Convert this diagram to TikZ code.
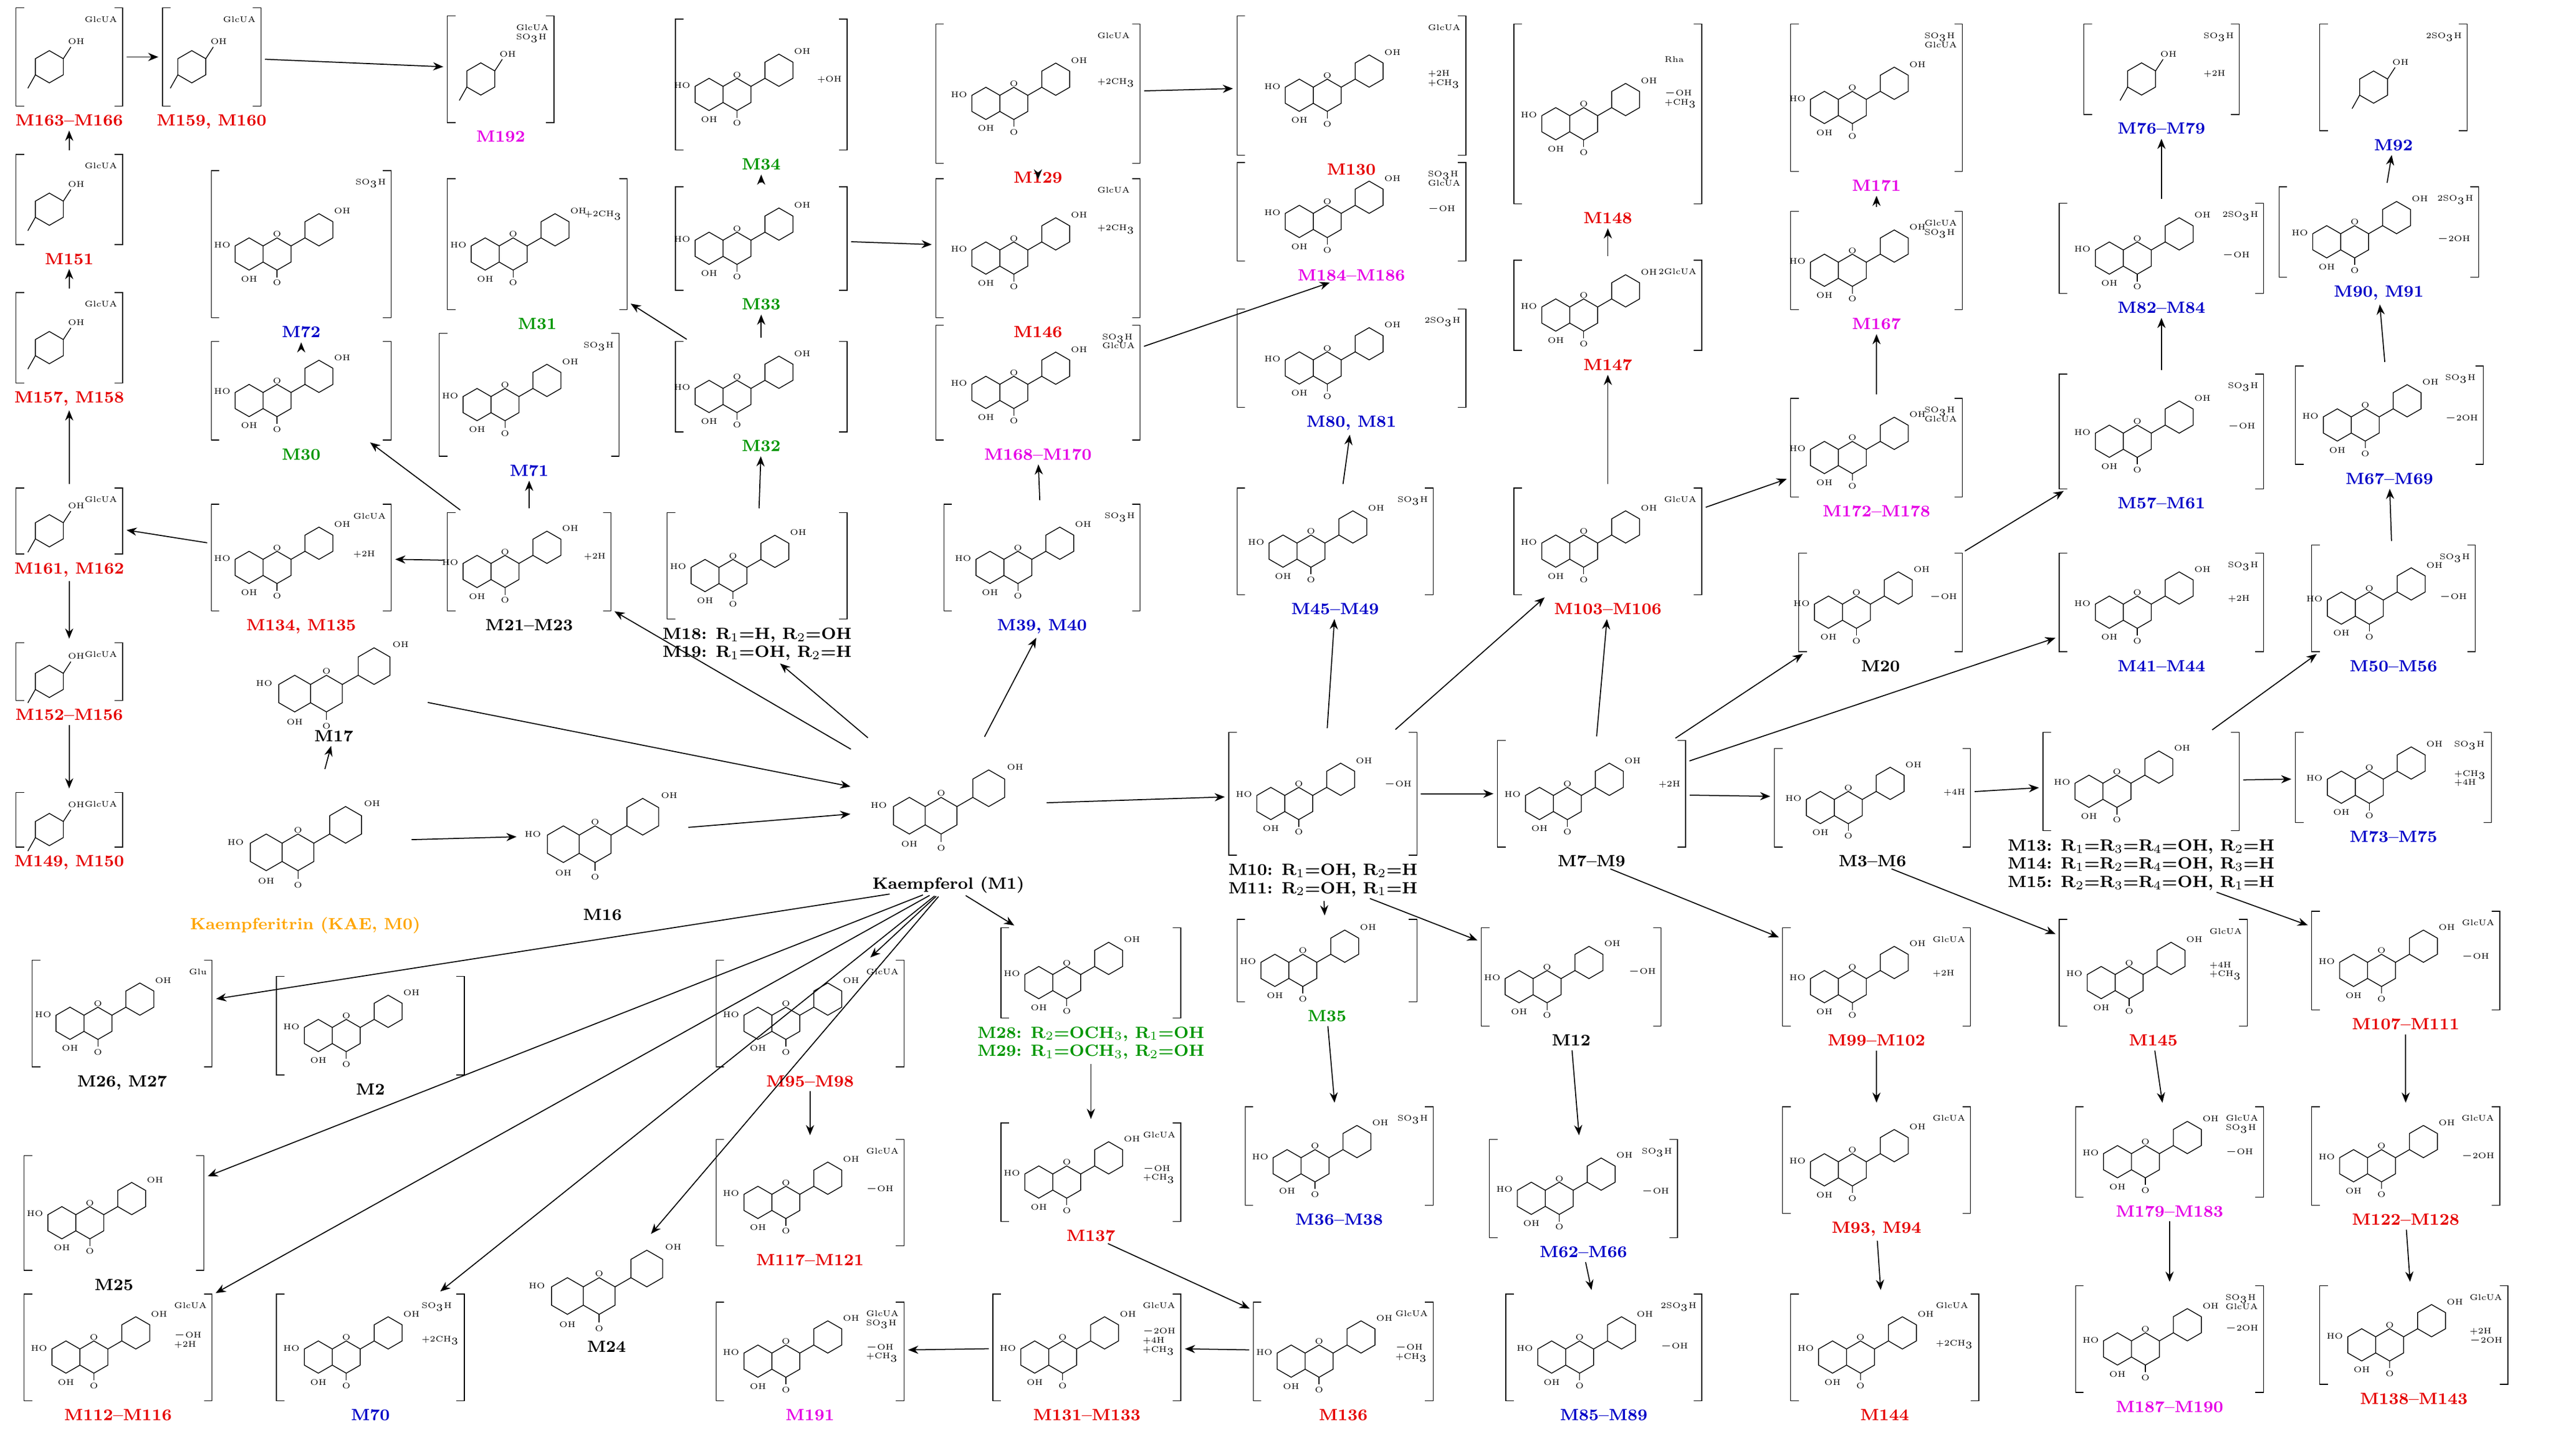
\documentclass[tikz,border=0pt]{standalone}
\usetikzlibrary{fit,calc,arrows.meta}
\definecolor{cred}{RGB}{230,0,0}
\definecolor{cmag}{RGB}{230,0,230}
\definecolor{cblue}{RGB}{0,0,200}
\definecolor{cgreen}{RGB}{0,150,0}
\definecolor{corange}{RGB}{255,165,0}
\tikzset{
 bond/.style={line width=0.4pt},
 brk/.style={line width=0.4pt},
 atom/.style={font=\fontsize{4}{4.5}\selectfont,inner sep=0pt},
 annot/.style={font=\fontsize{4}{4.5}\selectfont,inner sep=0pt,align=left},
 lab/.style={font=\fontsize{8}{9}\selectfont\bfseries,inner sep=0pt,align=center},
 arr/.style={-{Stealth[length=5pt,width=4pt]},line width=0.5pt,shorten >=2pt,shorten <=2pt},
 pics/flav/.style={code={
  \draw[bond] (0,-9)--(7.8,-4.5)--(7.8,4.5)--(0,9)--(-7.8,4.5)--(-7.8,-4.5)--cycle;
  \draw[bond] (7.8,-4.5)--(15.6,-9)--(23.4,-4.5)--(23.4,4.5)--(15.6,9)--(7.8,4.5);
  \draw[bond] (23.4,-4.5)--(31.2,-9);
  \draw[bond] (39,-22.5)--(46.8,-18)--(46.8,-9)--(39,-4.5)--(31.2,-9)--(31.2,-18)--cycle;
  \draw[bond] (15.6,9)--(15.6,13);
  \node[atom] at (-15,-5) {HO};
  \node[atom] at (0,14) {OH};
  \node[atom] at (15.6,16) {O};
  \node[atom] at (15.6,-11) {O};
  \node[atom] at (52,-24) {OH};
 }},
 pics/phen/.style={code={
  \draw[bond] (18,-9)--(25.8,-4.5)--(25.8,4.5)--(18,9)--(10.2,4.5)--(10.2,-4.5)--cycle;
  \draw[bond] (25.8,-4.5)--(30,-11);
  \draw[bond] (10.2,4.5)--(6,12);
  \node[atom] at (33,-14) {OH};
 }}
}
\newcommand\met[9]{%
 \coordinate (#1-a) at (#2,#3); \coordinate (#1-b) at (#4,#5);
 \node[fit=(#1-a)(#1-b),inner sep=0pt] (#1) {};
 \draw[brk] ($(#1.north west)+(5,0)$) -- (#1.north west) -- (#1.south west) -- ++(5,0);
 \draw[brk] ($(#1.north east)+(-5,0)$) -- (#1.north east) -- (#1.south east) -- ++(-5,0);
 \pic[scale=1.1] at ($(#1.center)+(-32,6)$) {#8};
 \node[annot,anchor=north east] at ($(#1.north east)+(-3,5)$) {#9};
 \node[lab,text=#7,anchor=north] (#1l) at ($(#1.south)+(0,5)$) {#6};
}
\newcommand\plain[7]{%
 \coordinate (#1-a) at (#2,#3); \coordinate (#1-b) at (#4,#5);
 \node[fit=(#1-a)(#1-b),inner sep=0pt] (#1) {};
 \pic[scale=1.25] at ($(#1.center)+(-24,6)$) {flav};
 \node[lab,text=#7,anchor=north] (#1l) at ($(#1.south)+(0,3)$) {#6};
}
\begin{document}
\begin{tikzpicture}[x=0.02816cm,y=-0.02816cm]
\useasboundingbox[fill=white] (0,0) rectangle (1568,894);
% row 1
\met{m163}{10}{5}{75}{65}{M163--M166}{cred}{phen}{GlcUA}
\met{m159}{100}{5}{160}{65}{M159, M160}{cred}{phen}{GlcUA}
\met{m192}{275}{10}{340}{75}{M192}{cmag}{phen}{GlcUA\\SO$_3$H}
\met{m34}{415}{12}{520}{92}{M34}{cgreen}{flav}{\\[22pt]+OH}
\met{m129}{575}{15}{700}{100}{M129}{cred}{flav}{GlcUA\\[18pt]+2CH$_3$}
\met{m130}{760}{10}{900}{95}{M130}{cred}{flav}{GlcUA\\[18pt]+2H\\+CH$_3$}
\met{m148}{930}{15}{1045}{125}{M148}{cred}{flav}{\\[10pt]Rha\\[12pt]$-$OH\\+CH$_3$}
\met{m171}{1100}{15}{1205}{105}{M171}{cmag}{flav}{SO$_3$H\\GlcUA}
\met{m76}{1280}{15}{1375}{70}{M76--M79}{cblue}{phen}{SO$_3$H\\[14pt]+2H}
\met{m92}{1425}{15}{1515}{80}{M92}{cblue}{phen}{2SO$_3$H}
% row 2
\met{m151}{10}{95}{75}{150}{M151}{cred}{phen}{GlcUA}
\met{m72}{130}{105}{240}{195}{M72}{cblue}{flav}{SO$_3$H}
\met{m31}{275}{110}{385}{190}{M31}{cgreen}{flav}{\\[10pt]+2CH$_3$}
\met{m33}{415}{115}{520}{178}{M33}{cgreen}{flav}{}
\met{m146}{575}{110}{700}{195}{M146}{cred}{flav}{GlcUA\\[14pt]+2CH$_3$}
\met{m184}{760}{100}{900}{160}{M184--M186}{cmag}{flav}{SO$_3$H\\GlcUA\\[8pt]$-$OH}
\met{m147}{930}{160}{1045}{215}{M147}{cred}{flav}{2GlcUA}
\met{m167}{1100}{130}{1205}{190}{M167}{cmag}{flav}{GlcUA\\SO$_3$H}
\met{m82}{1265}{125}{1390}{180}{M82--M84}{cblue}{flav}{2SO$_3$H\\[14pt]$-$OH}
\met{m90}{1400}{115}{1522}{170}{M90, M91}{cblue}{flav}{2SO$_3$H\\[14pt]$-$2OH}
% row 3
\met{m157}{10}{180}{75}{235}{M157, M158}{cred}{phen}{GlcUA}
\met{m30}{130}{210}{240}{270}{M30}{cgreen}{flav}{}
\met{m71}{270}{205}{380}{280}{M71}{cblue}{flav}{SO$_3$H}
\met{m32}{415}{210}{520}{265}{M32}{cgreen}{flav}{}
\met{m168}{575}{200}{700}{270}{M168--M170}{cmag}{flav}{SO$_3$H\\GlcUA}
\met{m80}{760}{190}{900}{250}{M80, M81}{cblue}{flav}{2SO$_3$H}
\met{m172}{1100}{245}{1205}{305}{M172--M178}{cmag}{flav}{SO$_3$H\\GlcUA}
\met{m57}{1265}{230}{1390}{300}{M57--M61}{cblue}{flav}{SO$_3$H\\[14pt]$-$OH}
\met{m67}{1410}{225}{1525}{285}{M67--M69}{cblue}{flav}{SO$_3$H\\[14pt]$-$2OH}
% row 4
\met{m161}{10}{300}{75}{340}{M161, M162}{cred}{phen}{GlcUA}
\met{m134}{130}{310}{240}{375}{M134, M135}{cred}{flav}{GlcUA\\[14pt]+2H}
\met{m21}{275}{315}{375}{375}{M21--M23}{black}{flav}{\\[14pt]+2H}
\met{m18}{410}{315}{520}{380}{M18: R$_1$=H, R$_2$=OH\\M19: R$_1$=OH, R$_2$=H}{black}{flav}{}
\met{m39}{580}{310}{700}{375}{M39, M40}{cblue}{flav}{SO$_3$H}
\met{m45}{760}{300}{880}{365}{M45--M49}{cblue}{flav}{SO$_3$H}
\met{m103}{930}{300}{1045}{365}{M103--M106}{cred}{flav}{GlcUA}
\met{m20}{1105}{340}{1205}{400}{M20}{black}{flav}{\\[14pt]$-$OH}
\met{m41}{1265}{340}{1390}{400}{M41--M44}{cblue}{flav}{SO$_3$H\\[12pt]+2H}
\met{m50}{1420}{335}{1520}{400}{M50--M56}{cblue}{flav}{SO$_3$H\\[14pt]$-$OH}
% row 5
\met{m152}{10}{395}{75}{430}{M152--M156}{cred}{phen}{GlcUA}
\met{m149}{10}{487}{75}{520}{M149, M150}{cred}{phen}{GlcUA}
\plain{m17}{150}{395}{260}{445}{M17}{black}
\plain{m0}{125}{475}{250}{560}{Kaempferitrin (KAE, M0)}{corange}
\plain{m16}{320}{470}{420}{555}{M16}{black}
\plain{m1}{525}{455}{640}{535}{Kaempferol (M1)}{black}
\met{m10}{755}{450}{870}{525}{M10: R$_1$=OH, R$_2$=H\\M11: R$_2$=OH, R$_1$=H}{black}{flav}{\\[18pt]$-$OH}
\met{m7}{920}{455}{1035}{520}{M7--M9}{black}{flav}{\\[14pt]+2H}
\met{m3}{1090}{460}{1210}{520}{M3--M6}{black}{flav}{\\[14pt]+4H}
\met{m13}{1255}{450}{1375}{510}{M13: R$_1$=R$_3$=R$_4$=OH, R$_2$=H\\M14: R$_1$=R$_2$=R$_4$=OH, R$_3$=H\\M15: R$_2$=R$_3$=R$_4$=OH, R$_1$=H}{black}{flav}{}
\met{m73}{1410}{450}{1530}{505}{M73--M75}{cblue}{flav}{SO$_3$H\\[10pt]+CH$_3$\\+4H}
% row 6
\met{m26}{20}{590}{130}{655}{M26, M27}{black}{flav}{Glu}
\met{m2}{170}{600}{285}{660}{M2}{black}{flav}{}
\met{m95}{440}{590}{555}{655}{M95--M98}{cred}{flav}{GlcUA}
\met{m28}{615}{570}{725}{625}{M28: R$_2$=OCH$_3$, R$_1$=OH\\M29: R$_1$=OCH$_3$, R$_2$=OH}{cgreen}{flav}{}
\met{m35}{760}{565}{870}{615}{M35}{cgreen}{flav}{}
\met{m12}{910}{570}{1020}{630}{M12}{black}{flav}{\\[14pt]$-$OH}
\met{m99}{1095}{570}{1210}{630}{M99--M102}{cred}{flav}{GlcUA\\[12pt]+2H}
\met{m145}{1265}{565}{1380}{630}{M145}{cred}{flav}{GlcUA\\[12pt]+4H\\+CH$_3$}
\met{m107}{1420}{560}{1535}{620}{M107--M111}{cred}{flav}{GlcUA\\[12pt]$-$OH}
% row 7
\met{m25}{15}{710}{125}{780}{M25}{black}{flav}{}
\met{m117}{440}{700}{555}{765}{M117--M121}{cred}{flav}{GlcUA\\[14pt]$-$OH}
\met{m137}{615}{690}{725}{750}{M137}{cred}{flav}{GlcUA\\[12pt]$-$OH\\+CH$_3$}
\met{m36}{765}{680}{880}{740}{M36--M38}{cblue}{flav}{SO$_3$H}
\met{m62}{915}{700}{1030}{760}{M62--M66}{cblue}{flav}{SO$_3$H\\[14pt]$-$OH}
\met{m93}{1095}{680}{1210}{745}{M93, M94}{cred}{flav}{GlcUA}
\met{m179}{1275}{680}{1390}{735}{M179--M183}{cmag}{flav}{GlcUA\\SO$_3$H\\[6pt]$-$OH}
\met{m122}{1420}{680}{1535}{740}{M122--M128}{cred}{flav}{GlcUA\\[14pt]$-$2OH}
% row 8
\met{m112}{15}{795}{130}{860}{M112--M116}{cred}{flav}{GlcUA\\[10pt]$-$OH\\+2H}
\met{m70}{170}{795}{285}{860}{M70}{cblue}{flav}{SO$_3$H\\[12pt]+2CH$_3$}
\plain{m24}{325}{760}{420}{820}{M24}{black}
\met{m191}{440}{800}{555}{860}{M191}{cmag}{flav}{GlcUA\\SO$_3$H\\[6pt]$-$OH\\+CH$_3$}
\met{m131}{610}{795}{725}{860}{M131--M133}{cred}{flav}{GlcUA\\[8pt]$-$2OH\\+4H\\+CH$_3$}
\met{m136}{770}{800}{880}{860}{M136}{cred}{flav}{GlcUA\\[12pt]$-$OH\\+CH$_3$}
\met{m85}{925}{795}{1045}{860}{M85--M89}{cblue}{flav}{2SO$_3$H\\[14pt]$-$OH}
\met{m144}{1100}{795}{1215}{860}{M144}{cred}{flav}{GlcUA\\[14pt]+2CH$_3$}
\met{m187}{1275}{790}{1390}{855}{M187--M190}{cmag}{flav}{SO$_3$H\\GlcUA\\[6pt]$-$2OH}
\met{m138}{1425}{790}{1540}{850}{M138--M143}{cred}{flav}{GlcUA\\[12pt]+2H\\$-$2OH}
% arrows
\draw[arr] (m163) -- (m159);
\draw[arr] (m159) -- (m192);
\draw[arr] (m151) -- (m163l);
\draw[arr] (m157) -- (m151l);
\draw[arr] (m161) -- (m157l);
\draw[arr] (m161l) -- (m152);
\draw[arr] (m152l) -- (m149);
\draw[arr] (m134) -- (m161);
\draw[arr] (m21) -- (m134);
\draw[arr] (m21) -- (m71l);
\draw[arr] (m21) -- (m30);
\draw[arr] (m30) -- (m72l);
\draw[arr] (m32) -- (m31);
\draw[arr] (m32) -- (m33l);
\draw[arr] (m33) -- (m34l);
\draw[arr] (m33) -- (m146);
\draw[arr] (m146) -- (m129l);
\draw[arr] (m129) -- (m130);
\draw[arr] (m168) -- (m184l);
\draw[arr] (m18) -- (m32l);
\draw[arr] (m1) -- (m21);
\draw[arr] (m1) -- (m18l);
\draw[arr] (m1) -- (m39l);
\draw[arr] (m39) -- (m168l);
\draw[arr] (m17) -- (m1);
\draw[arr] (m0) -- (m17l);
\draw[arr] (m0) -- (m16);
\draw[arr] (m16) -- (m1);
\draw[arr] (m1) -- (m10);
\draw[arr] (m1l) -- (m95);
\draw[arr] (m1l) -- (m28);
\draw[arr] (m1l) -- (m26);
\draw[arr] (m1l) -- (m25);
\draw[arr] (m1l) -- (m112);
\draw[arr] (m1l) -- (m70);
\draw[arr] (m1l) -- (m24);
\draw[arr] (m95l) -- (m117);
\draw[arr] (m28l) -- (m137);
\draw[arr] (m137l) -- (m136);
\draw[arr] (m136) -- (m131);
\draw[arr] (m131) -- (m191);
\draw[arr] (m10) -- (m45l);
\draw[arr] (m45) -- (m80l);
\draw[arr] (m10l) -- (m35);
\draw[arr] (m35l) -- (m36);
\draw[arr] (m10) -- (m7);
\draw[arr] (m10l) -- (m12);
\draw[arr] (m12l) -- (m62);
\draw[arr] (m62l) -- (m85);
\draw[arr] (m10) -- (m103);
\draw[arr] (m103) -- (m172);
\draw[arr] (m7) -- (m103l);
\draw[arr] (m103) -- (m147l);
\draw[arr] (m147) -- (m148l);
\draw[arr] (m7) -- (m20);
\draw[arr] (m7) -- (m41);
\draw[arr] (m7) -- (m3);
\draw[arr] (m7l) -- (m99);
\draw[arr] (m3) -- (m13);
\draw[arr] (m3l) -- (m145);
\draw[arr] (m13) -- (m73);
\draw[arr] (m13) -- (m50);
\draw[arr] (m13l) -- (m107);
\draw[arr] (m20) -- (m57);
\draw[arr] (m172) -- (m167l);
\draw[arr] (m167) -- (m171l);
\draw[arr] (m57) -- (m82l);
\draw[arr] (m82) -- (m76l);
\draw[arr] (m50) -- (m67l);
\draw[arr] (m67) -- (m90l);
\draw[arr] (m90) -- (m92l);
\draw[arr] (m99l) -- (m93);
\draw[arr] (m93l) -- (m144);
\draw[arr] (m145l) -- (m179);
\draw[arr] (m179l) -- (m187);
\draw[arr] (m107l) -- (m122);
\draw[arr] (m122l) -- (m138);
\end{tikzpicture}
\end{document}
